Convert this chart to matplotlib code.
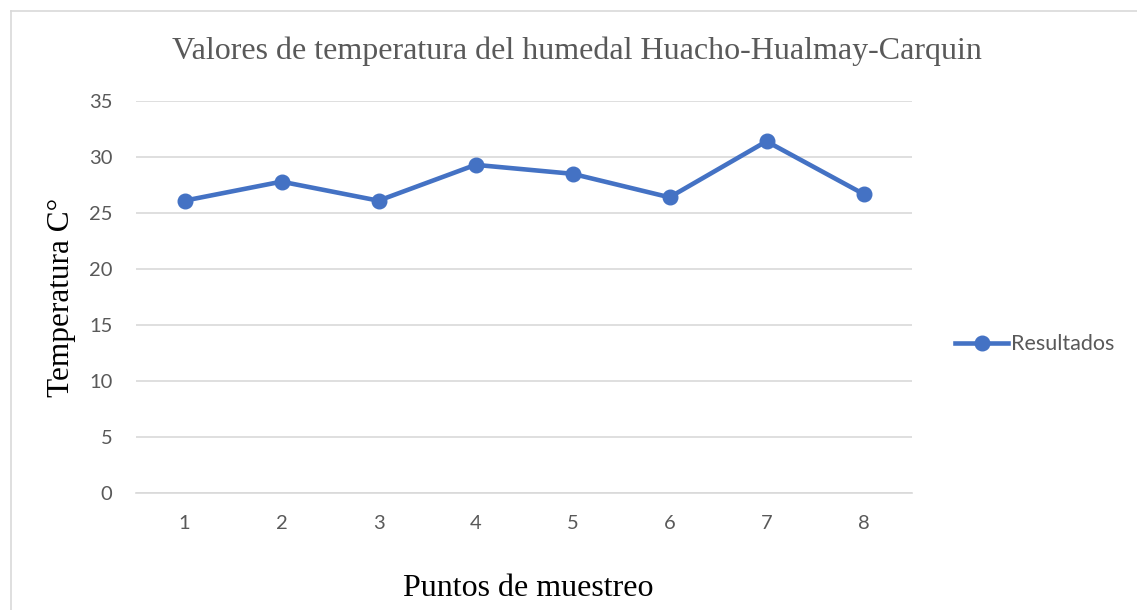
import matplotlib
matplotlib.use("Agg")
import matplotlib.pyplot as plt
from matplotlib.lines import Line2D

puntos = [1, 2, 3, 4, 5, 6, 7, 8]
temperatura = [26.1, 27.8, 26.1, 29.3, 28.5, 26.4, 31.4, 26.7]
yticks = [0, 5, 10, 15, 20, 25, 30, 35]

title = "Valores de temperatura del humedal Huacho-Hualmay-Carquin"
xlabel = "Puntos de muestreo"
ylabel = "Temperatura C°"
series_name = "Resultados"

color = "#4472C4"
fig = plt.figure(figsize=(11.37, 6.10), dpi=100)
ax = fig.add_axes([136/1137, 1-493/610, (912-136)/1137, (493-101)/610])

ax.plot(puntos, temperatura, color=color, lw=3.3, marker="o", ms=10.5, label=series_name)
ax.set_xlim(0.5, 8.5)
ax.set_ylim(0, 35)
ax.set_yticks(yticks)
ax.set_xticks(puntos)
ax.grid(axis="y", color="#d9d9d9", lw=1.2)
ax.set_axisbelow(True)
for s in ["top", "right", "left"]:
    ax.spines[s].set_visible(False)
ax.spines["bottom"].set_color("#d9d9d9")
ax.spines["bottom"].set_linewidth(1.2)
ax.tick_params(length=0, labelsize=14.5, labelcolor="#595959")
ax.tick_params(axis="x", pad=16)
ax.tick_params(axis="y", pad=17)
for lab in ax.get_xticklabels() + ax.get_yticklabels():
    lab.set_family("Lato")

fig.text(577/1137, 1-51/610, title, ha="center", va="center",
         family="Liberation Serif", fontsize=23, color="#595959")
fig.text(528/1137, 1-589/610, xlabel, ha="center", va="center",
         family="Liberation Serif", fontsize=23, color="black")
fig.text(62/1137, 1-297/610, ylabel, ha="center", va="center", rotation=90,
         family="Liberation Serif", fontsize=22.5, color="black")

leg = ax.legend(loc="center left", bbox_to_anchor=(1.03, 0.38), frameon=False,
                prop={"family": "Lato", "size": 15.5}, handlelength=2.5, handletextpad=0.1)
for t in leg.get_texts():
    t.set_color("#595959")

# outer chart border (cropped)
fig.add_artist(Line2D([11/1137, 1], [1-11/610, 1-11/610], color="#d9d9d9", lw=1.2))
fig.add_artist(Line2D([11/1137, 11/1137], [0, 1-11/610], color="#d9d9d9", lw=1.2))

fig.savefig("out.png", dpi=100)
